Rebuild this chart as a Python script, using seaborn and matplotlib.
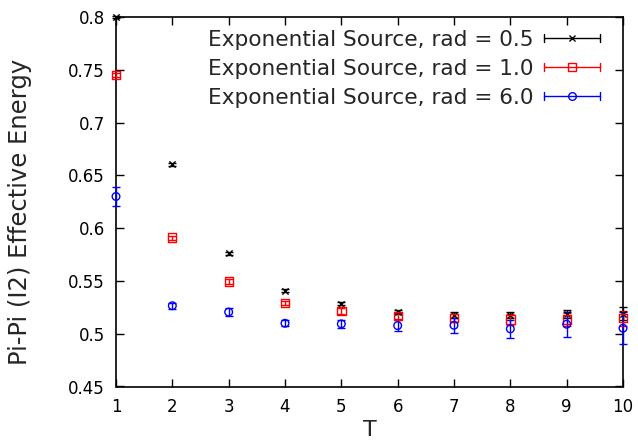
import numpy as np
import pandas as pd
import matplotlib
matplotlib.use("Agg")
import matplotlib.pyplot as plt
import seaborn as sns
from matplotlib.legend_handler import HandlerBase
from matplotlib.lines import Line2D

T = [1, 2, 3, 4, 5, 6, 7, 8, 9, 10]
rad05 = [0.800, 0.6605, 0.576, 0.5407, 0.5283, 0.5203, 0.5179, 0.5175, 0.5185, 0.5190]
rad05_err = [0.001, 0.0015, 0.0015, 0.0015, 0.0015, 0.002, 0.003, 0.003, 0.004, 0.006]
rad10 = [0.745, 0.591, 0.5495, 0.5293, 0.5213, 0.5169, 0.5150, 0.5135, 0.5135, 0.5146]
rad10_err = [0.002, 0.002, 0.002, 0.002, 0.003, 0.003, 0.004, 0.005, 0.006, 0.007]
rad60 = [0.630, 0.5265, 0.5205, 0.5099, 0.5093, 0.5077, 0.5080, 0.5046, 0.5090, 0.5052]
rad60_err = [0.0087, 0.003, 0.004, 0.003, 0.004, 0.005, 0.007, 0.0086, 0.012, 0.015]

labels = ["Exponential Source, rad = 0.5",
          "Exponential Source, rad = 1.0",
          "Exponential Source, rad = 6.0"]
colors = ["#000000", "#ff0000", "#0000ff"]
markers = ["x", "s", "o"]
msizes = [4.5, 6, 5.5]

sns.set_style("ticks")
plt.rcParams['font.family'] = ['DejaVu Sans']

fig = plt.figure(figsize=(6.38, 4.41), dpi=100)
ax = fig.add_axes([116/638, 1 - 386.5/441, (623 - 116)/638, (386.5 - 17)/441])

series = [(rad05, rad05_err), (rad10, rad10_err), (rad60, rad60_err)]
frames = []
for lab, (vals, errs) in zip(labels, series):
    frames.append(pd.DataFrame({"T": T, "E": vals, "err": errs, "series": lab}))
df = pd.concat(frames, ignore_index=True)

for lab, col, mk, ms in zip(labels, colors, markers, msizes):
    sub = df[df["series"] == lab]
    ax.errorbar(sub["T"], sub["E"], yerr=sub["err"], fmt="none", ecolor=col,
                elinewidth=1.0, capsize=3, capthick=1.0, clip_on=False, zorder=3)
    sns.scatterplot(data=sub, x="T", y="E", ax=ax, marker=mk, s=ms**2,
                    facecolors="none" if mk != "x" else col,
                    edgecolors=col, color=col, linewidths=1.0,
                    clip_on=False, zorder=4, legend=False)

ax.set_xlim(1, 10)
ax.set_ylim(0.45, 0.8)
ax.set_xticks(range(1, 11))
ax.set_yticks([0.45, 0.5, 0.55, 0.6, 0.65, 0.7, 0.75, 0.8])
ax.set_yticklabels(["0.45", "0.5", "0.55", "0.6", "0.65", "0.7", "0.75", "0.8"])
ax.tick_params(direction="in", length=6, width=1.0, top=True, right=True,
               labelsize=12, pad=8, colors="#000000")
for sp in ax.spines.values():
    sp.set_linewidth(1.2)
    sp.set_color("#000000")
ax.set_xlabel("T", fontsize=16)
ax.xaxis.set_label_coords(0.5, -0.09)
ax.set_ylabel("Pi-Pi (I2) Effective Energy", fontsize=17.5)
ax.yaxis.set_label_coords(-0.165, 0.473)


class ErrHandler(HandlerBase):
    def __init__(self, color, marker, ms):
        super().__init__()
        self.c = color
        self.m = marker
        self.ms = ms

    def create_artists(self, legend, orig_handle, xdescent, ydescent, width,
                       height, fontsize, trans):
        y = height / 2 - ydescent
        x0, x1 = -xdescent, -xdescent + width
        line = Line2D([x0, x1], [y, y], color=self.c, lw=1.0, transform=trans)
        c1 = Line2D([x0, x0], [y - 3, y + 3], color=self.c, lw=1.0, transform=trans)
        c2 = Line2D([x1, x1], [y - 3, y + 3], color=self.c, lw=1.0, transform=trans)
        mk = Line2D([(x0 + x1) / 2], [y], marker=self.m, ms=self.ms,
                    mfc="none", mec=self.c, color=self.c, transform=trans, lw=0)
        return [line, c1, c2, mk]


handles = [Line2D([], [], color=c) for c in colors]
hmap = {h: ErrHandler(c, m, s) for h, c, m, s in zip(handles, colors, markers, msizes)}
leg = ax.legend(handles, labels, handler_map=hmap, loc="upper right",
                bbox_to_anchor=(0.984, 1.007), frameon=False, markerfirst=False,
                fontsize=15.6, handlelength=2.55, handletextpad=0.5,
                labelspacing=0.42, borderaxespad=0.3)

fig.savefig("out.png", dpi=100)
